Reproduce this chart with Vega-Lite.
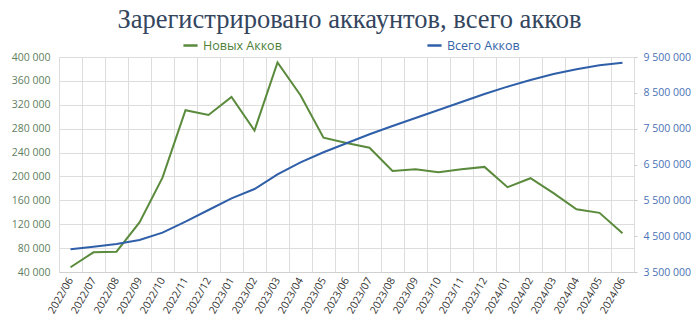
{
  "$schema": "https://vega.github.io/schema/vega-lite/v6.json",
  "autosize": {"type": "none"},
  "padding": {"left": 59, "top": 57, "right": 66, "bottom": 46},
  "width": 575,
  "height": 215,
  "background": "white",
  "title": {
    "text": "Зарегистрировано аккаунтов, всего акков",
    "font": "Liberation Serif",
    "fontSize": 26.5,
    "fontWeight": "normal",
    "color": "#34465e",
    "anchor": "middle",
    "offset": 4,
    "dx": 3
  },
  "data": {
    "values": [
      {"month": "2022/06", "new": 48000, "total": 4133000},
      {"month": "2022/07", "new": 73000, "total": 4206000},
      {"month": "2022/08", "new": 74000, "total": 4281000},
      {"month": "2022/09", "new": 123000, "total": 4393000},
      {"month": "2022/10", "new": 198000, "total": 4597000},
      {"month": "2022/11", "new": 311000, "total": 4904000},
      {"month": "2022/12", "new": 303000, "total": 5230000},
      {"month": "2023/01", "new": 333000, "total": 5557000},
      {"month": "2023/02", "new": 277000, "total": 5816000},
      {"month": "2023/03", "new": 391000, "total": 6227000},
      {"month": "2023/04", "new": 336000, "total": 6562000},
      {"month": "2023/05", "new": 265000, "total": 6841000},
      {"month": "2023/06", "new": 256000, "total": 7092000},
      {"month": "2023/07", "new": 248000, "total": 7343000},
      {"month": "2023/08", "new": 209000, "total": 7575000},
      {"month": "2023/09", "new": 212000, "total": 7798000},
      {"month": "2023/10", "new": 207000, "total": 8021000},
      {"month": "2023/11", "new": 212000, "total": 8245000},
      {"month": "2023/12", "new": 216000, "total": 8468000},
      {"month": "2024/01", "new": 182000, "total": 8672000},
      {"month": "2024/02", "new": 197000, "total": 8859000},
      {"month": "2024/03", "new": 172000, "total": 9026000},
      {"month": "2024/04", "new": 145000, "total": 9157000},
      {"month": "2024/05", "new": 139000, "total": 9269000},
      {"month": "2024/06", "new": 105000, "total": 9342000}
    ]
  },
  "layer": [
    {
      "mark": {"type": "line", "strokeWidth": 2},
      "encoding": {
        "x": {
          "field": "month", "type": "ordinal", "bandPosition": 0.5,
          "scale": {"type": "band", "paddingInner": 0, "paddingOuter": 0},
          "axis": {
            "title": null, "labelAngle": -60, "labelFont": "Open Sans", "labelFontSize": 10.5,
            "labelColor": "#333333", "ticks": false, "grid": true, "tickBand": "extent",
            "gridColor": "#dddddd", "domainColor": "#d0d0d0", "labelPadding": 6
          }
        },
        "y": {
          "field": "new", "type": "quantitative",
          "scale": {"domain": [40000, 400000], "nice": false, "zero": false},
          "axis": {
            "title": null, "values": [40000, 80000, 120000, 160000, 200000, 240000, 280000, 320000, 360000, 400000],
            "labelFont": "Open Sans", "labelFontSize": 10.5, "labelColor": "#5f8060",
            "ticks": false, "domain": false, "grid": true, "gridColor": "#dddddd", "labelPadding": 9,
            "format": ",d"
          }
        },
        "color": {
          "datum": "Новых Акков",
          "scale": {"range": ["#5a8a3c"]},
          "legend": {
            "title": null, "orient": "none", "legendX": 123, "legendY": -20,
            "labelFont": "Open Sans", "labelFontSize": 12.5, "labelColor": "#4f7f3a",
            "symbolType": "stroke", "symbolStrokeWidth": 2.5, "symbolSize": 200
          }
        }
      }
    },
    {
      "mark": {"type": "line", "strokeWidth": 2},
      "encoding": {
        "x": {
          "field": "month", "type": "ordinal", "bandPosition": 0.5,
          "scale": {"type": "band", "paddingInner": 0, "paddingOuter": 0}
        },
        "y": {
          "field": "total", "type": "quantitative",
          "scale": {"domain": [3500000, 9500000], "nice": false, "zero": false},
          "axis": {
            "title": null, "orient": "right",
            "values": [3500000, 4500000, 5500000, 6500000, 7500000, 8500000, 9500000],
            "labelFont": "Open Sans", "labelFontSize": 10.5, "labelColor": "#4a72b5",
            "ticks": true, "tickSize": 3, "tickColor": "#cccccc", "domain": false, "grid": false,
            "labelPadding": 6, "format": ",d"
          }
        },
        "color": {
          "datum": "Всего Акков",
          "scale": {"range": ["#2f5fa8"]},
          "legend": {
            "title": null, "orient": "none", "legendX": 367, "legendY": -20,
            "labelFont": "Open Sans", "labelFontSize": 12.5, "labelColor": "#3563a8",
            "symbolType": "stroke", "symbolStrokeWidth": 2.5, "symbolSize": 200
          }
        }
      }
    }
  ],
  "resolve": {"scale": {"y": "independent", "color": "independent"}},
  "config": {
    "view": {"stroke": null},
    "locale": {"number": {"decimal": ",", "thousands": " ", "grouping": [3], "currency": ["", ""]}}
  }
}
